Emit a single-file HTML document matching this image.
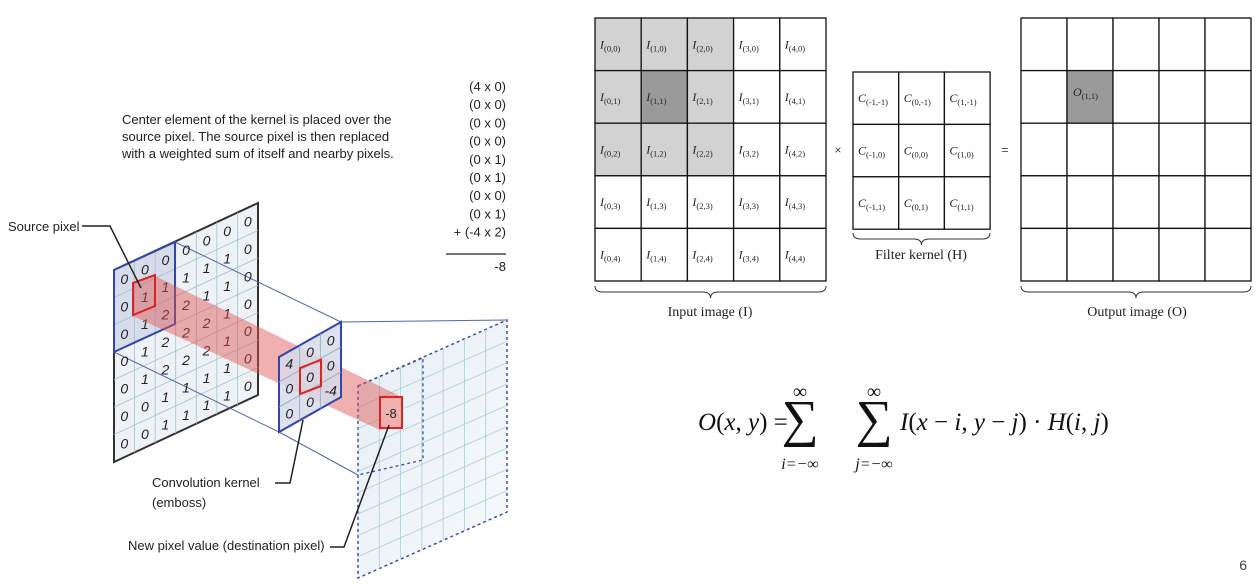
<!DOCTYPE html>
<html><head><meta charset="utf-8"><style>
body{margin:0;width:1259px;height:584px;background:#fff;overflow:hidden;position:relative;font-family:"Liberation Sans",sans-serif}
svg{position:absolute;left:0;top:0}
</style></head><body>
<svg id="s" width="1259" height="584">
<defs>
<linearGradient id="pl" x1="0" y1="0" x2="1" y2="1"><stop offset="0" stop-color="#e6eef4"/><stop offset="1" stop-color="#f7fafc"/></linearGradient>
</defs>
<g id="left">
<text x="122" y="124" font-size="13" fill="#222">Center element of the kernel is placed over the</text>
<text x="122" y="141" font-size="13" fill="#222">source pixel. The source pixel is then replaced</text>
<text x="122" y="158" font-size="13" fill="#222">with a weighted sum of itself and nearby pixels.</text>
<g id="sum" font-size="13" fill="#222" text-anchor="end"></g>
<line x1="446" y1="254" x2="506" y2="254" stroke="#222" stroke-width="1.2"/>
<text x="506" y="271" font-size="13" text-anchor="end" fill="#222">-8</text>
</g>
<g id="right"></g>
<text x="1247" y="570" font-size="14" fill="#444" text-anchor="end">6</text>
</svg>
<script>
const sumTerms=["(4 x 0)","(0 x 0)","(0 x 0)","(0 x 0)","(0 x 1)","(0 x 1)","(0 x 0)","(0 x 1)","+ (-4 x 2)"];
const sourceValues=[[0,0,0,0,0,0,0],[0,1,1,1,1,1,0],[0,1,2,2,1,1,0],[0,1,2,2,2,1,0],[0,1,2,2,2,1,0],[0,0,1,1,1,1,0],[0,0,1,1,1,1,0]];
const kernelValues=[[4,0,0],[0,0,0],[0,0,-4]];
const NS="http://www.w3.org/2000/svg";
function mk(p,t,a,txt){const e=document.createElementNS(NS,t);for(const k in a)e.setAttribute(k,a[k]);if(txt!==undefined)e.textContent=txt;p.appendChild(e);return e;}
const L=document.getElementById('left'),R=document.getElementById('right');
const sg=document.getElementById('sum');
sumTerms.forEach((t,i)=>{const e=mk(sg,'text',{x:506,y:91+i*18.2},t);

});
function P(q,u,v){return [q.tl[0]+u*(q.tr[0]-q.tl[0])+v*(q.bl[0]-q.tl[0]),q.tl[1]+u*(q.tr[1]-q.tl[1])+v*(q.bl[1]-q.tl[1])];}
function poly(q){return [q.tl,q.tr,P(q,1,1),q.bl].map(p=>p.join(',')).join(' ');}
const src={tl:[114,270],tr:[258,203],bl:[114,462]};
const ker={tl:[279,357],tr:[341,322],bl:[279,432]};
const out={tl:[358,386],tr:[507,320],bl:[358,578]};
let e=mk(L,'polygon',{points:poly(out),fill:'url(#pl)',stroke:'#3d4fa8','stroke-width':1.5,'stroke-dasharray':'3,3'});


for(let i=1;i<7;i++){const a=P(out,i/7,0),b=P(out,i/7,1);mk(L,'line',{x1:a[0],y1:a[1],x2:b[0],y2:b[1],stroke:'#a8d0d8','stroke-width':0.8});}
for(let i=1;i<9;i++){const a=P(out,0,i/9),b=P(out,1,i/9);mk(L,'line',{x1:a[0],y1:a[1],x2:b[0],y2:b[1],stroke:'#a8d0d8','stroke-width':0.8});}
mk(L,'polyline',{points:'358,386 423,358 423,460 358,475',fill:'none',stroke:'#3d4fa8','stroke-width':1.3,'stroke-dasharray':'3,3'});
e=mk(L,'polygon',{points:poly(src),fill:'#eef2f6',stroke:'#333','stroke-width':2});


const sb={tl:[114,270],tr:[175,242],bl:[114,352]};
mk(L,'polygon',{points:poly(sb),fill:'#d6dcea',stroke:'none'});
for(let i=1;i<7;i++){let a=P(src,i/7,0),b=P(src,i/7,1);mk(L,'line',{x1:a[0],y1:a[1],x2:b[0],y2:b[1],stroke:'#9cc4cc','stroke-width':0.8});
a=P(src,0,i/7);b=P(src,1,i/7);mk(L,'line',{x1:a[0],y1:a[1],x2:b[0],y2:b[1],stroke:'#9cc4cc','stroke-width':0.8});}
[[sb.tr,ker.tr],[P(sb,0,1),ker.bl],[ker.tr,[507,320]],[P(ker,0,1),[358,475]]].forEach(l=>mk(L,'line',{x1:l[0][0],y1:l[0][1],x2:l[1][0],y2:l[1][1],stroke:'#5566aa','stroke-width':1}));
sourceValues.forEach((row,r)=>row.forEach((v,c)=>{const p=P(src,(c+0.5)/7,(r+0.5)/7);const t=mk(L,'text',{x:p[0],y:p[1]+5,'font-size':14,'font-style':'italic','text-anchor':'middle',fill:'#222'},v);

}));
mk(L,'polygon',{points:poly(sb),fill:'none',stroke:'#3344aa','stroke-width':2});
e=mk(L,'polygon',{points:'133,284 155,276 402,397 402,428 380,430 133,316',fill:'#e05050','fill-opacity':0.45});


e=mk(L,'polygon',{points:poly(ker),fill:'#d6dcea','fill-opacity':0.85,stroke:'#3344aa','stroke-width':2});


for(let i=1;i<3;i++){let a=P(ker,i/3,0),b=P(ker,i/3,1);mk(L,'line',{x1:a[0],y1:a[1],x2:b[0],y2:b[1],stroke:'#8ab','stroke-width':0.8});
a=P(ker,0,i/3);b=P(ker,1,i/3);mk(L,'line',{x1:a[0],y1:a[1],x2:b[0],y2:b[1],stroke:'#8ab','stroke-width':0.8});}
kernelValues.forEach((row,r)=>row.forEach((v,c)=>{const p=P(ker,(c+0.5)/3,(r+0.5)/3);const t=mk(L,'text',{x:p[0],y:p[1]+5,'font-size':14,'font-style':'italic','text-anchor':'middle',fill:'#222'},v);

}));
mk(L,'polygon',{points:'133,283 155,275 155,306 133,315',fill:'none',stroke:'#d22','stroke-width':2});
mk(L,'polygon',{points:'300,368 321,360 321,386 300,394',fill:'none',stroke:'#d22','stroke-width':2});
mk(L,'rect',{x:380,y:397,width:22,height:31,fill:'#f0b0b0',stroke:'#d22','stroke-width':2});
mk(L,'text',{x:391,y:418,'font-size':13,'text-anchor':'middle',fill:'#222'},'-8');
[['Source pixel',8,231],['Convolution kernel',152,487],['(emboss)',152,507],['New pixel value (destination pixel)',128,550]].forEach(a=>{const t=mk(L,'text',{x:a[1],y:a[2],'font-size':13,fill:'#222'},a[0]);

});
mk(L,'polyline',{points:'82,226 110,226 141,288',fill:'none',stroke:'#222','stroke-width':1.5});
mk(L,'polyline',{points:'275,483 290,483 303,420',fill:'none',stroke:'#222','stroke-width':1.5});
mk(L,'polyline',{points:'330,547 344,547 389,425',fill:'none',stroke:'#222','stroke-width':1.5});
function grid(x0,y0,cw,ch,n,m,name,lab,shade){const g=mk(R,'g',{});


for(let r=0;r<m;r++)for(let c=0;c<n;c++){const f=shade?shade(c,r):'#fff';mk(g,'rect',{x:x0+c*cw,y:y0+r*ch,width:cw,height:ch,fill:f,stroke:'#111','stroke-width':1.3});
if(lab){const t=mk(g,'text',{x:x0+c*cw+5,y:y0+r*ch+ch/2+4,'font-size':12,'font-family':'Liberation Serif,serif',fill:'#222'});
mk(t,'tspan',{'font-style':'italic'},lab[0]);mk(t,'tspan',{'font-size':8.5,dy:3},lab(c,r));}}}
const inLab=(c,r)=>'('+c+','+r+')';inLab[0]='I';
grid(595,18,46.2,52.6,5,5,'input-image-grid',inLab,(c,r)=>(c==1&&r==1)?'#9a9a9a':(c<3&&r<3?'#d2d2d2':'#fff'));
const kLab=(c,r)=>'('+(c-1)+','+(r-1)+')';kLab[0]='C';
grid(853,72,45.7,52.4,3,3,'filter-kernel-grid',kLab);
grid(1021,18,46,52.6,5,5,'output-image-grid',null,(c,r)=>(c==1&&r==1)?'#9a9a9a':'#fff');
const ot=mk(R,'text',{x:1073,y:96,'font-size':12,'font-family':'Liberation Serif,serif',fill:'#222'});mk(ot,'tspan',{'font-style':'italic'},'O');mk(ot,'tspan',{'font-size':8.5,dy:3},'(1,1)');
function brace(x1,x2,y){const m=(x1+x2)/2;mk(R,'path',{d:`M${x1},${y} q0,6 8,6 L${m-8},${y+6} q8,0 8,6 q0,-6 8,-6 L${x2-8},${y+6} q8,0 8,-6`,fill:'none',stroke:'#333','stroke-width':1});}
brace(595,826,286);brace(853,990,233);brace(1021,1251,286);
[['Input image (I)',710,316],['Filter kernel (H)',921,259],['Output image (O)',1137,316]].forEach(a=>{const t=mk(R,'text',{x:a[1],y:a[2],'font-size':14,'text-anchor':'middle','font-family':'Liberation Serif,serif',fill:'#222'},a[0]);

});
mk(R,'text',{x:838,y:154,'font-size':12,fill:'#444','text-anchor':'middle'},'×');
mk(R,'text',{x:1005,y:154,'font-size':12,fill:'#444','text-anchor':'middle'},'=');
const F=mk(R,'g',{'font-family':'Liberation Serif,serif',fill:'#111'});


mk(F,'text',{x:698,y:430,'font-size':25},'').innerHTML='<tspan font-style="italic">O</tspan>(<tspan font-style="italic">x</tspan>, <tspan font-style="italic">y</tspan>) =';
[[800,'i'],[874,'j']].forEach(a=>{mk(F,'text',{x:a[0],y:436,'font-size':52,'text-anchor':'middle'},'∑');mk(F,'text',{x:a[0],y:398,'font-size':20,'text-anchor':'middle'},'∞');
mk(F,'text',{x:a[0],y:469,'font-size':16,'text-anchor':'middle','font-style':'italic'},a[1]+'=−∞');});
mk(F,'text',{x:900,y:430,'font-size':25},'').innerHTML='<tspan font-style="italic">I</tspan>(<tspan font-style="italic">x</tspan> − <tspan font-style="italic">i</tspan>, <tspan font-style="italic">y</tspan> − <tspan font-style="italic">j</tspan>) · <tspan font-style="italic">H</tspan>(<tspan font-style="italic">i</tspan>, <tspan font-style="italic">j</tspan>)';
</script>
</body></html>
